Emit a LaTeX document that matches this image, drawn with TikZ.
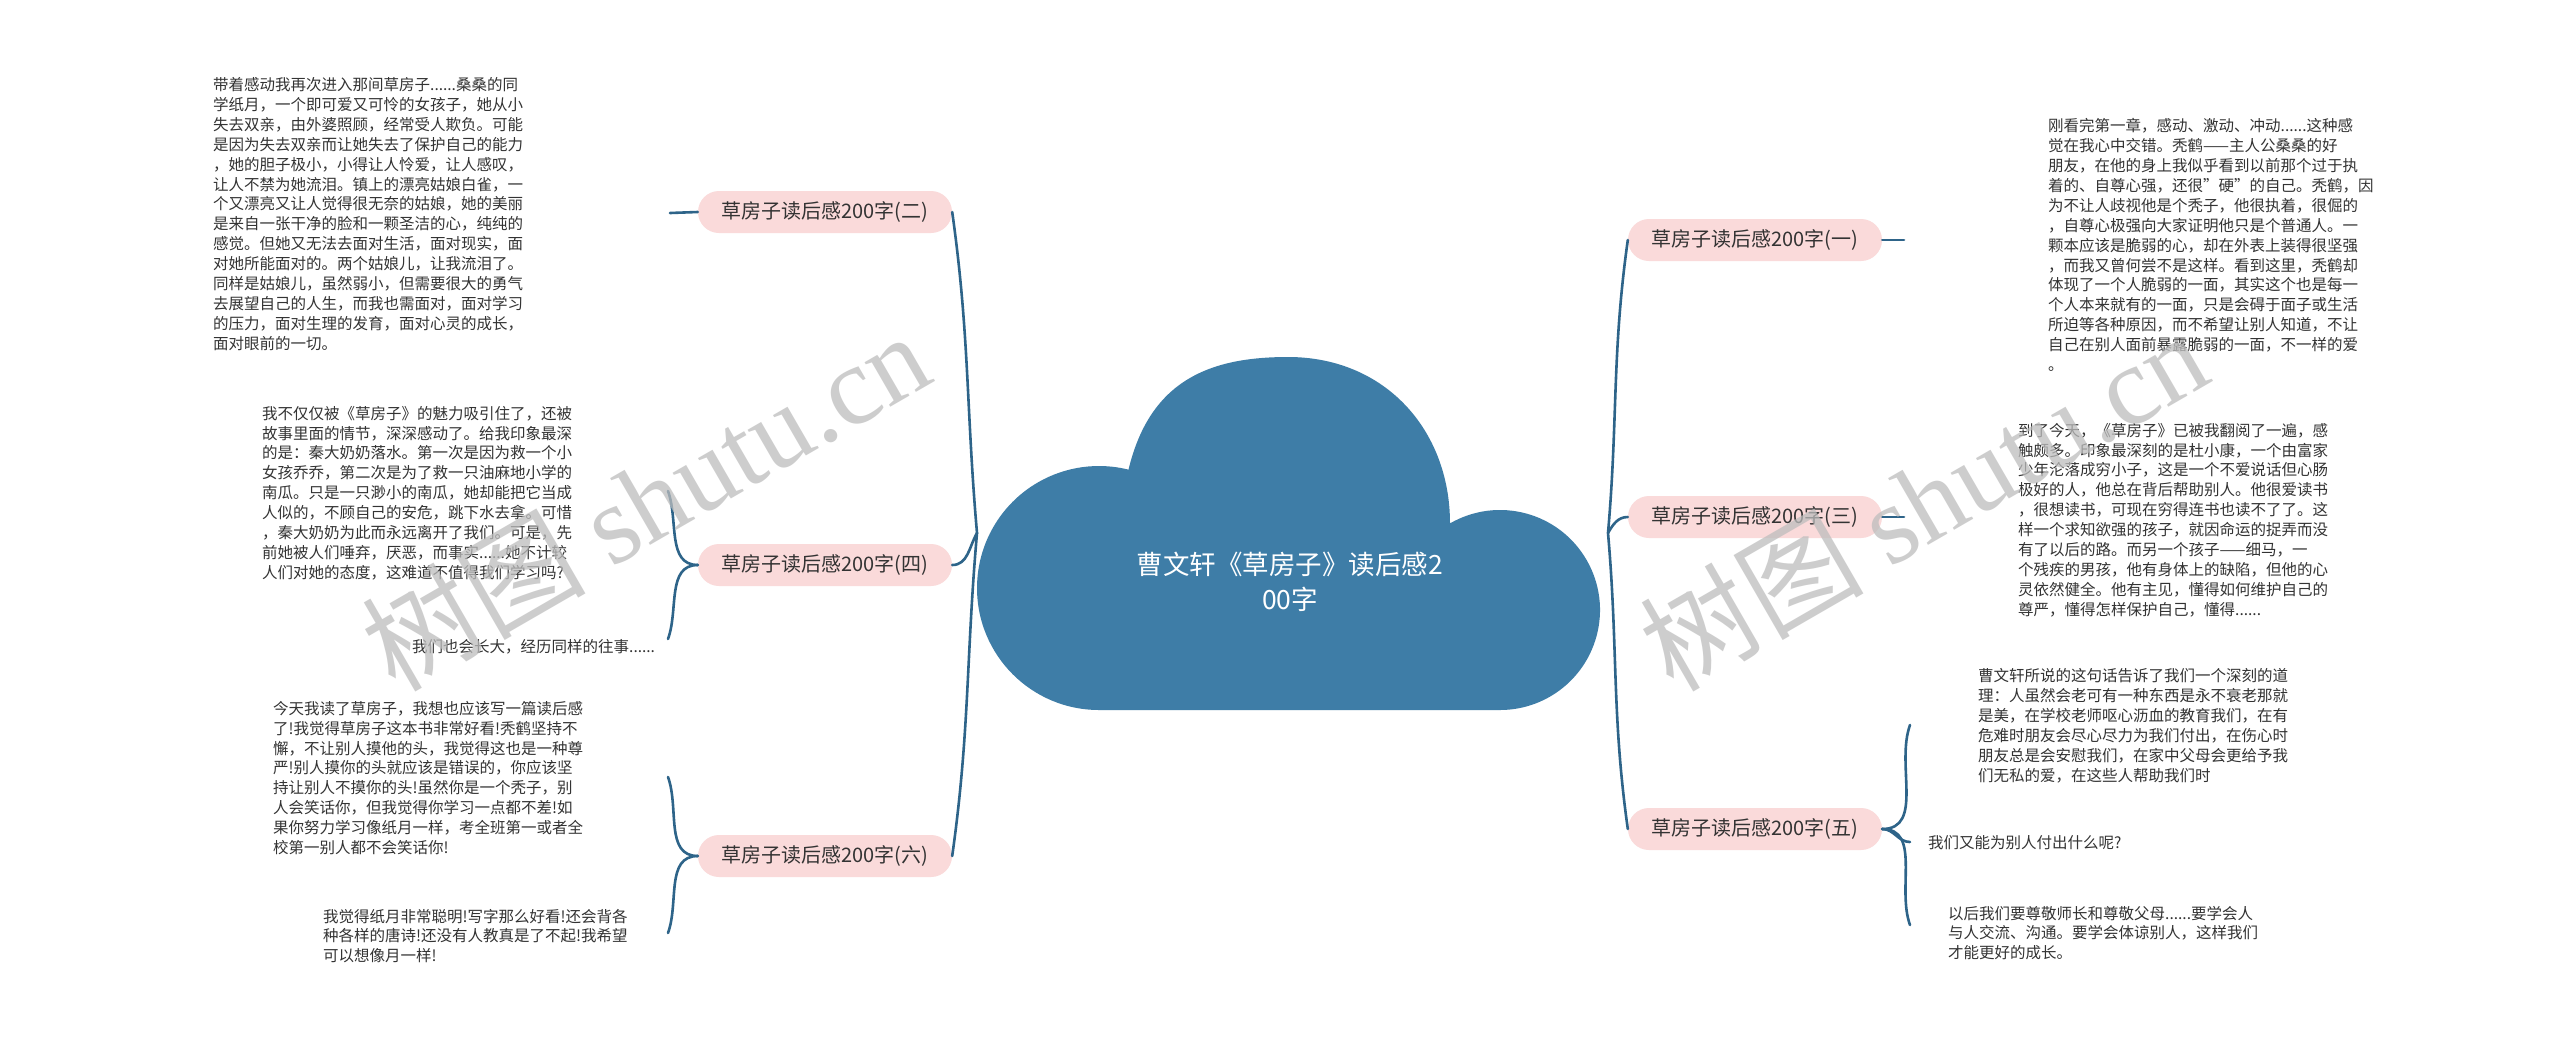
\documentclass[tikz,border=0pt]{standalone}
\usepackage{fontspec}
\setmainfont{Noto Sans CJK SC}
\newfontfamily\wmserif{Liberation Serif}
\usetikzlibrary{calc}
\definecolor{cloudblue}{HTML}{3E7DA7}
\definecolor{linkblue}{HTML}{2E6489}
\definecolor{pillpink}{HTML}{FADADA}
\definecolor{txtgray}{HTML}{333333}
\definecolor{wmgray}{HTML}{BDBDBD}
\begin{document}
\begin{tikzpicture}[x=1pt,y=1pt,
  pill/.style={rounded corners=21pt, fill=pillpink, minimum width=254pt, minimum height=42pt, inner sep=0pt, text=txtgray, font=\fontsize{20}{24}\selectfont},
  body/.style={anchor=west, align=left, inner sep=0pt, text=txtgray, font=\fontsize{15.5}{19.9}\selectfont},
  link/.style={draw=linkblue, line width=2.6pt, line cap=round},
  wmark/.style={rotate=30, text=wmgray, opacity=0.75, font=\fontsize{112}{120}\selectfont},
]
\useasboundingbox[fill=white] (0,0) rectangle (2560,-1039);

% cloud
\fill[cloudblue] (1099,-710) arc[start angle=270, end angle=76, radius=122]
  .. controls (1150,-380) and (1210,-357) .. (1288,-357)
  .. controls (1385,-357) and (1450,-430) .. (1450,-523.4)
  arc[start angle=120, end angle=-90, radius=100] -- cycle;
\node[font=\fontsize{26.5}{35}\selectfont, text=white, align=center, inner sep=0pt] (title) at (1290,-582) {曹文轩《草房子》读后感2\\00字};
\coordinate (L) at (977,-533);
\coordinate (R) at (1608,-533);

% left branches
\node[pill] (b2) at (825,-212) {草房子读后感200字(二)};
\node[pill] (b4) at (825,-565) {草房子读后感200字(四)};
\node[pill] (b6) at (825,-856) {草房子读后感200字(六)};
% right branches
\node[pill] (a1) at (1755,-240) {草房子读后感200字(一)};
\node[pill] (a3) at (1755,-517) {草房子读后感200字(三)};
\node[pill] (a5) at (1755,-829) {草房子读后感200字(五)};

\draw[link] (L) to[out=95,in=-82] (b2.east);
\draw[link] (L) to[out=-120,in=0] (b4.east);
\draw[link] (L) to[out=-95,in=82] (b6.east);
\draw[link] (R) to[out=85,in=-98] (a1.west);
\draw[link] (R) to[out=60,in=180] (a3.west);
\draw[link] (R) to[out=-85,in=98] (a5.west);

% text blocks left
\node[body] (t2) at (213,-214) {带着感动我再次进入那间草房子......桑桑的同\\学纸月，一个即可爱又可怜的女孩子，她从小\\失去双亲，由外婆照顾，经常受人欺负。可能\\是因为失去双亲而让她失去了保护自己的能力\\，她的胆子极小，小得让人怜爱，让人感叹，\\让人不禁为她流泪。镇上的漂亮姑娘白雀，一\\个又漂亮又让人觉得很无奈的姑娘，她的美丽\\是来自一张干净的脸和一颗圣洁的心，纯纯的\\感觉。但她又无法去面对生活，面对现实，面\\对她所能面对的。两个姑娘儿，让我流泪了。\\同样是姑娘儿，虽然弱小，但需要很大的勇气\\去展望自己的人生，而我也需面对，面对学习\\的压力，面对生理的发育，面对心灵的成长，\\面对眼前的一切。};
\node[body] (t4a) at (262,-493) {我不仅仅被《草房子》的魅力吸引住了，还被\\故事里面的情节，深深感动了。给我印象最深\\的是：秦大奶奶落水。第一次是因为救一个小\\女孩乔乔，第二次是为了救一只油麻地小学的\\南瓜。只是一只渺小的南瓜，她却能把它当成\\人似的，不顾自己的安危，跳下水去拿。可惜\\，秦大奶奶为此而永远离开了我们。可是，先\\前她被人们唾弃，厌恶，而事实......她不计较\\人们对她的态度，这难道不值得我们学习吗?};
\node[body] (t4b) at (412,-647) {我们也会长大，经历同样的往事......};
\node[body] (t6a) at (273,-778) {今天我读了草房子，我想也应该写一篇读后感\\了!我觉得草房子这本书非常好看!秃鹤坚持不\\懈，不让别人摸他的头，我觉得这也是一种尊\\严!别人摸你的头就应该是错误的，你应该坚\\持让别人不摸你的头!虽然你是一个秃子，别\\人会笑话你，但我觉得你学习一点都不差!如\\果你努力学习像纸月一样，考全班第一或者全\\校第一别人都不会笑话你!};
\node[body] (t6b) at (323,-936) {我觉得纸月非常聪明!写字那么好看!还会背各\\种各样的唐诗!还没有人教真是了不起!我希望\\可以想像月一样!};

% text blocks right
\node[body] (t1) at (2048,-245) {刚看完第一章，感动、激动、冲动......这种感\\觉在我心中交错。秃鹤——主人公桑桑的好\\朋友，在他的身上我似乎看到以前那个过于执\\着的、自尊心强，还很"硬"的自己。秃鹤，因\\为不让人歧视他是个秃子，他很执着，很倔的\\，自尊心极强向大家证明他只是个普通人。一\\颗本应该是脆弱的心，却在外表上装得很坚强\\，而我又曾何尝不是这样。看到这里，秃鹤却\\体现了一个人脆弱的一面，其实这个也是每一\\个人本来就有的一面，只是会碍于面子或生活\\所迫等各种原因，而不希望让别人知道，不让\\自己在别人面前暴露脆弱的一面，不一样的爱\\。};
\node[body] (t3) at (2018,-520) {到了今天，《草房子》已被我翻阅了一遍，感\\触颇多。印象最深刻的是杜小康，一个由富家\\少年沦落成穷小子，这是一个不爱说话但心肠\\极好的人，他总在背后帮助别人。他很爱读书\\，很想读书，可现在穷得连书也读不了了。这\\样一个求知欲强的孩子，就因命运的捉弄而没\\有了以后的路。而另一个孩子——细马，一\\个残疾的男孩，他有身体上的缺陷，但他的心\\灵依然健全。他有主见，懂得如何维护自己的\\尊严，懂得怎样保护自己，懂得......};
\node[body] (t5a) at (1978,-726) {曹文轩所说的这句话告诉了我们一个深刻的道\\理：人虽然会老可有一种东西是永不衰老那就\\是美，在学校老师呕心沥血的教育我们，在有\\危难时朋友会尽心尽力为我们付出，在伤心时\\朋友总是会安慰我们，在家中父母会更给予我\\们无私的爱，在这些人帮助我们时};
\node[body] (t5b) at (1928,-843) {我们又能为别人付出什么呢?};
\node[body] (t5c) at (1948,-933) {以后我们要尊敬师长和尊敬父母......要学会人\\与人交流、沟通。要学会体谅别人，这样我们\\才能更好的成长。};

% child connectors
\coordinate (c2) at (670,-213);
\coordinate (c4a) at (668,-491);
\coordinate (c4b) at (668,-639);
\coordinate (c6a) at (668,-777);
\coordinate (c6b) at (668,-933);
\draw[link] (b2.west) -- (c2);
\draw[link] (b4.west) to[out=180,in=-70] (c4a);
\draw[link] (b4.west) to[out=180,in=70] (c4b);
\draw[link] (b6.west) to[out=180,in=-70] (c6a);
\draw[link] (b6.west) to[out=180,in=70] (c6b);

\coordinate (r1) at (1904,-240);
\coordinate (r3) at (1904,-517);
\coordinate (r5a) at (1910,-725);
\coordinate (r5b) at (1910,-842);
\coordinate (r5c) at (1910,-925);
\draw[link] (a1.east) -- (r1);
\draw[link] (a3.east) -- (r3);
\draw[link] (a5.east) to[out=0,in=-110] (r5a);
\draw[link] (a5.east) to[out=0,in=180] (r5b);
\draw[link] (a5.east) to[out=0,in=110] (r5c);

% watermarks
\node[wmark] (wm1) at (645,-500) {树图 {\wmserif shutu.cn}};
\node[wmark] (wm2) at (1923,-500) {树图 {\wmserif shutu.cn}};
\end{tikzpicture}
\end{document}
